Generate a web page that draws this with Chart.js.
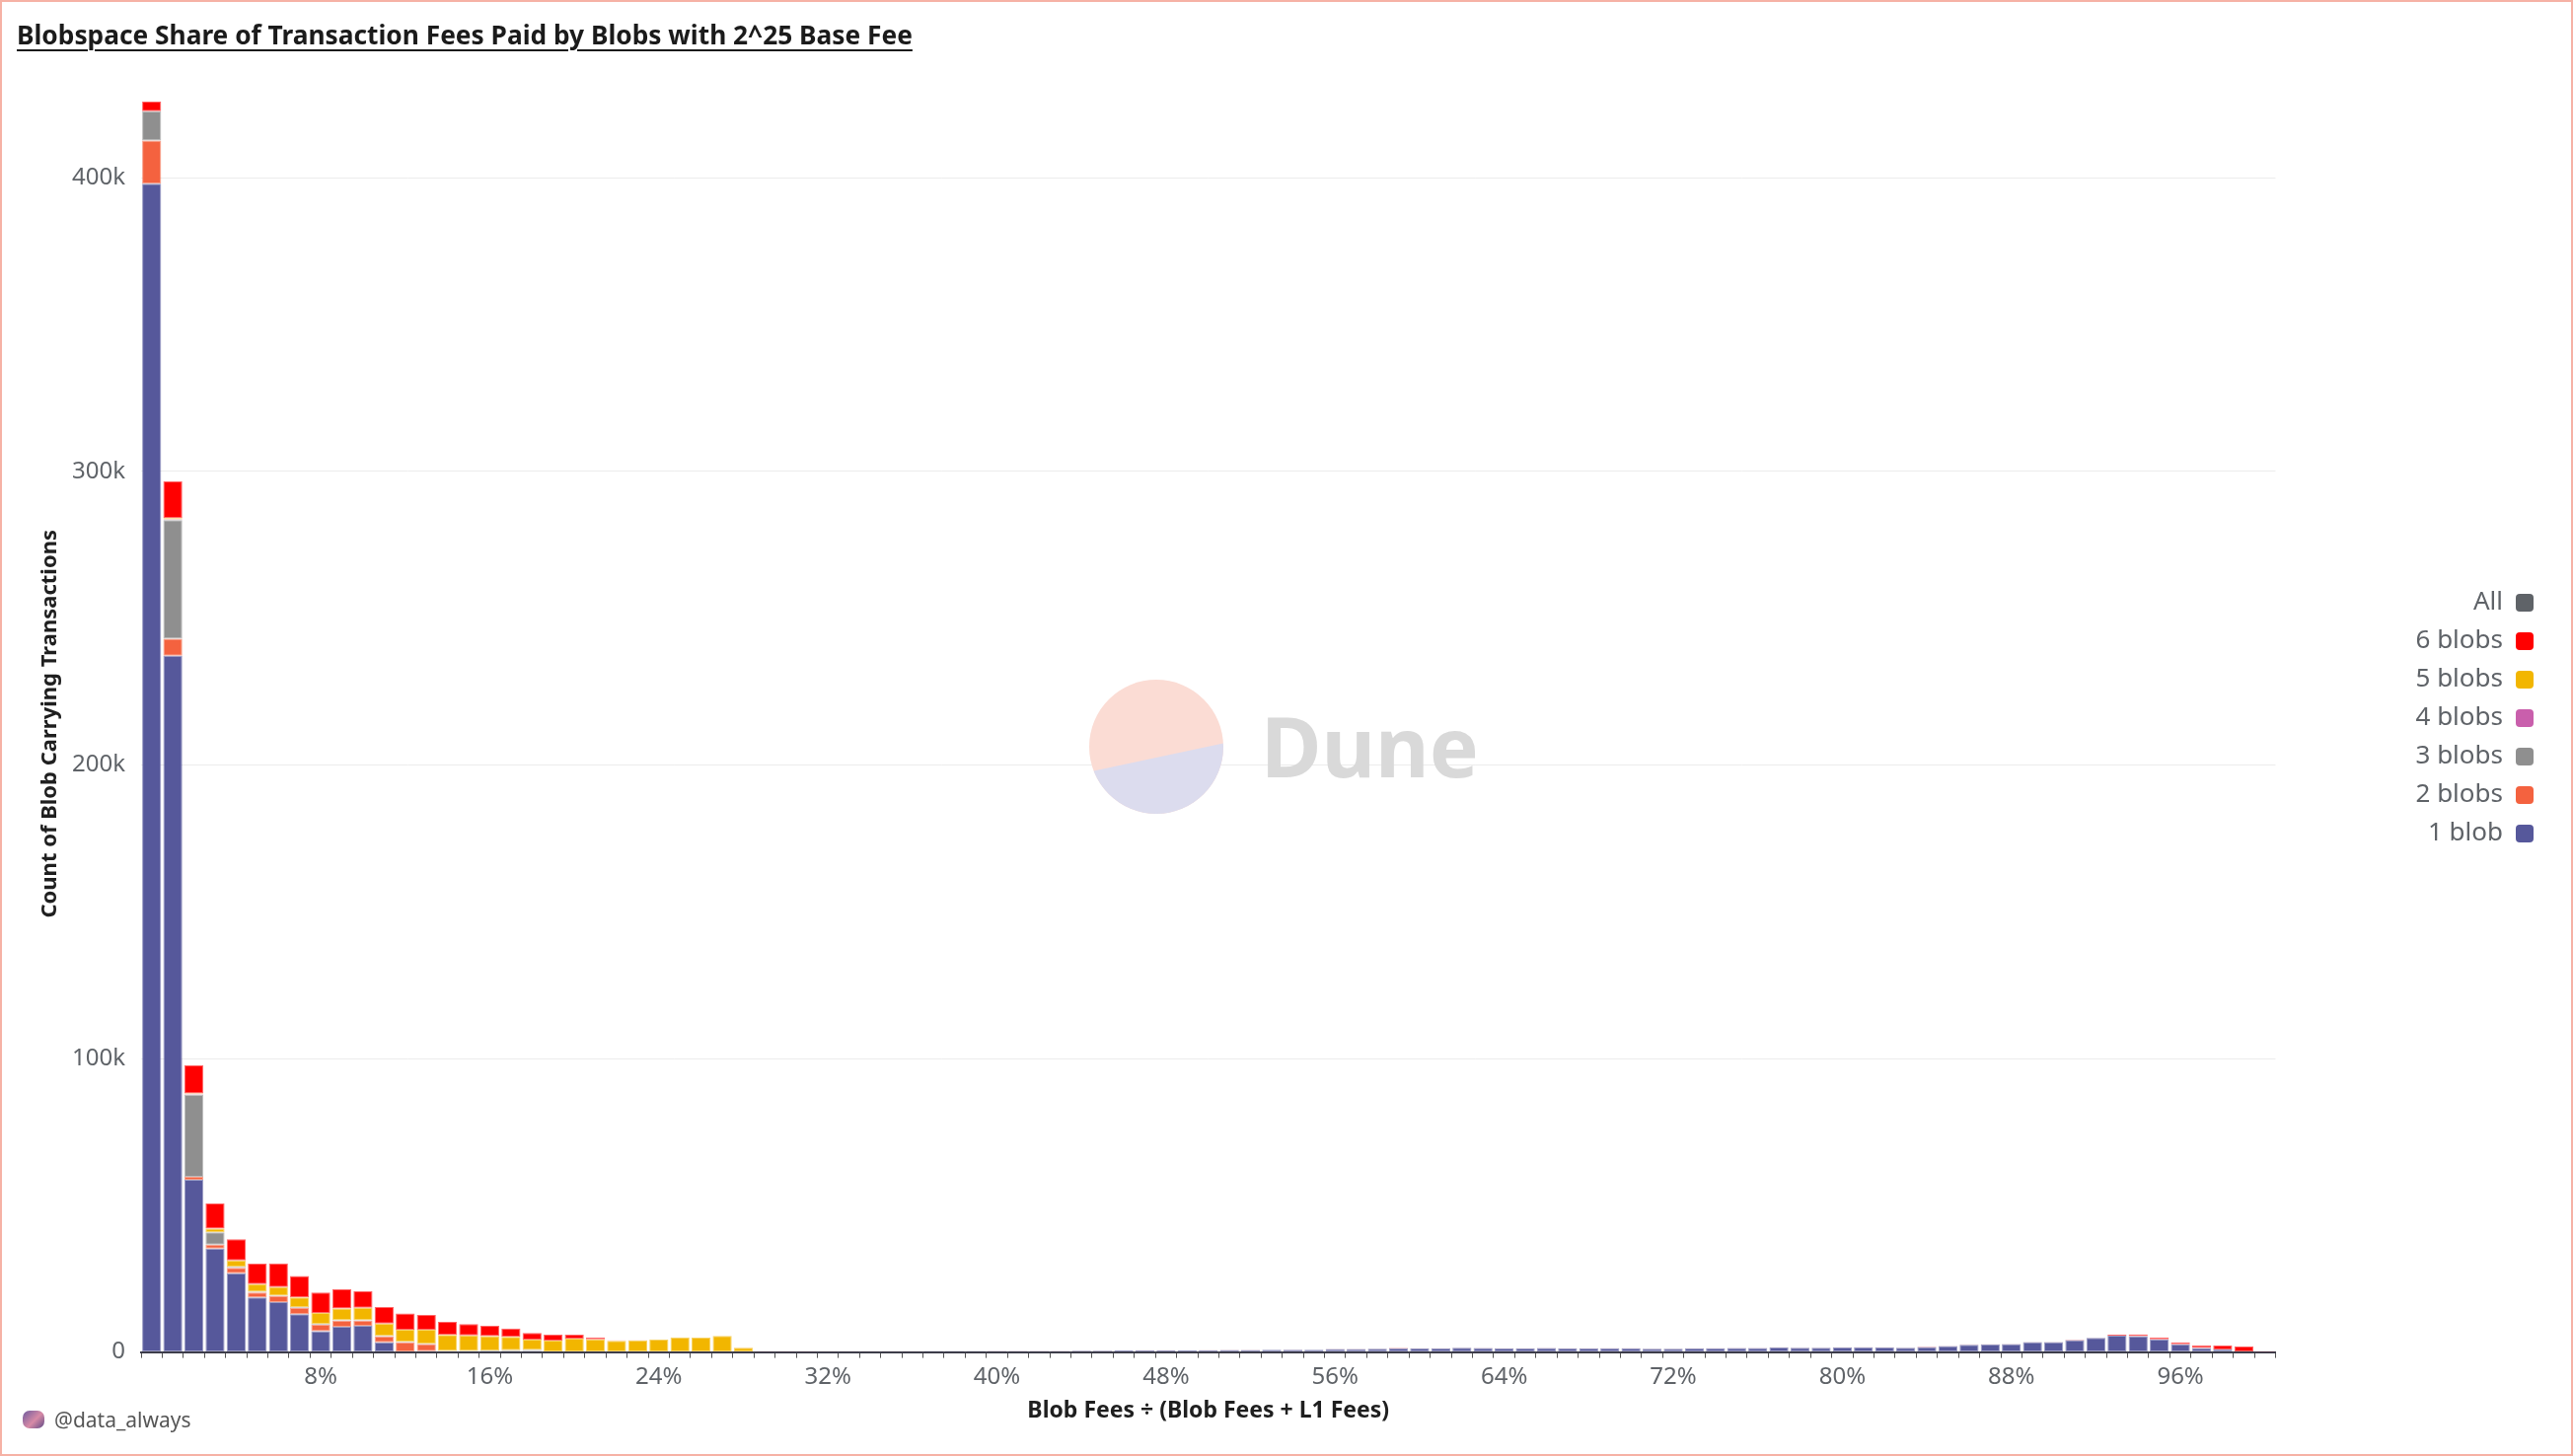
<!DOCTYPE html>
<html>
<head>
<meta charset="utf-8">
<title>Blobspace Share of Transaction Fees Paid by Blobs</title>
<script src="https://cdn.jsdelivr.net/npm/chart.js@4.4.1/dist/chart.umd.min.js"></script>
<style>
  html, body { margin: 0; padding: 0; background: #fff; }
  #page { position: relative; width: 2608px; height: 1476px; overflow: hidden; font-family: 'Noto Sans', 'Open Sans', sans-serif; }
  #chart-box { position: absolute; left: 0; top: 0; width: 2608px; height: 1476px; }
  #frame { position: absolute; left: 0; top: 0; width: 2608px; height: 1476px; box-sizing: border-box; border: 2px solid #f6b2a5; pointer-events: none; }
  #title { position: absolute; left: 17px; top: 17px; font-size: 26.3px; font-weight: 700; color: #1b1b1b; text-decoration: underline; text-decoration-thickness: 2px; text-underline-offset: 5px; white-space: nowrap; }
  #credit { position: absolute; left: 23px; top: 1425px; font-size: 21px; color: #555; display: flex; align-items: center; gap: 10px; }
  #credit .avatar { width: 22px; height: 18px; border-radius: 7px; background: linear-gradient(135deg, #6d5a9e, #d78aa6 55%, #5e4a86); }
</style>
</head>
<body>
<div id="page">
  <div id="chart-box"><canvas id="blob-chart"></canvas></div>
  <div id="title">Blobspace Share of Transaction Fees Paid by Blobs with 2^25 Base Fee</div>
  <div id="credit"><span class="avatar"></span><span>@data_always</span></div>
  <div id="frame"></div>
</div>
<script>
// share buckets, one per percent
const categories = [
  '0%','1%','2%','3%','4%','5%','6%','7%','8%','9%',
  '10%','11%','12%','13%','14%','15%','16%','17%','18%','19%',
  '20%','21%','22%','23%','24%','25%','26%','27%','28%','29%',
  '30%','31%','32%','33%','34%','35%','36%','37%','38%','39%',
  '40%','41%','42%','43%','44%','45%','46%','47%','48%','49%',
  '50%','51%','52%','53%','54%','55%','56%','57%','58%','59%',
  '60%','61%','62%','63%','64%','65%','66%','67%','68%','69%',
  '70%','71%','72%','73%','74%','75%','76%','77%','78%','79%',
  '80%','81%','82%','83%','84%','85%','86%','87%','88%','89%',
  '90%','91%','92%','93%','94%','95%','96%','97%','98%','99%',
  '100%'
];
const tickLabels = ['8%', '16%', '24%', '32%', '40%', '48%', '56%', '64%', '72%', '80%', '88%', '96%'];

// counts in thousands of transactions
const oneBlob = [
  398, 237.2, 58.7, 35.2, 26.8, 18.6, 17.0, 12.9, 7.1, 8.6,
  8.9, 3.3, 0.1, 0.3, 0.2, 0.2, 0.3, 0.3, 0.4, 0.2,
  0.1, 0.1, 0.1, 0.1, 0.1, 0.1, 0.1, 0.1, 0.1, 0.1,
  0.15, 0.15, 0.2, 0.25, 0.3, 0.3, 0.3, 0.35, 0.35, 0.35,
  0.4, 0.4, 0.4, 0.4, 0.45, 0.45, 0.5, 0.55, 0.55, 0.6,
  0.65, 0.7, 0.7, 0.75, 0.8, 0.75, 1.05, 1.05, 1.15, 1.25,
  1.2, 1.2, 1.45, 1.35, 1.2, 1.2, 1.35, 1.2, 1.2, 1.3,
  1.3, 1.1, 1.1, 1.2, 1.3, 1.35, 1.35, 1.55, 1.45, 1.45,
  1.55, 1.65, 1.55, 1.45, 1.75, 2.05, 2.5, 2.6, 2.7, 3.4,
  3.4, 4.1, 4.8, 5.6, 5.4, 4.3, 2.6, 1.4, 0.9, 0.2,
  0.05
];
const twoBlobs = [
  14.7, 5.8, 1.0, 1.4, 1.9, 1.7, 2.0, 2.2, 2.2, 2.1,
  1.8, 2.0, 3.2, 2.4, 0.1, 0, 0, 0, 0, 0,
  0, 0, 0, 0, 0, 0, 0, 0, 0, 0,
  0, 0, 0, 0, 0, 0, 0, 0, 0, 0,
  0, 0, 0, 0, 0, 0, 0, 0, 0, 0,
  0, 0, 0, 0, 0, 0, 0, 0, 0, 0,
  0, 0, 0, 0, 0, 0, 0, 0, 0, 0,
  0, 0, 0, 0, 0, 0, 0, 0, 0, 0,
  0, 0, 0, 0, 0, 0, 0, 0, 0, 0,
  0, 0, 0, 0, 0, 0, 0, 0, 0, 0,
  0
];
const threeBlobs = [
  10.0, 40.4, 28.0, 4.2, 0.3, 0.2, 0.2, 0.2, 0.2, 0.2,
  0.2, 0.2, 0.2, 0.2, 0.1, 0.2, 0.2, 0.3, 0.3, 0,
  0, 0, 0, 0, 0, 0, 0, 0, 0, 0,
  0, 0, 0, 0, 0, 0, 0, 0, 0, 0,
  0, 0, 0, 0, 0, 0, 0, 0, 0, 0,
  0, 0, 0, 0, 0, 0, 0, 0, 0, 0,
  0, 0, 0, 0, 0, 0, 0, 0, 0, 0,
  0, 0, 0, 0, 0, 0, 0, 0, 0, 0,
  0, 0, 0, 0, 0, 0, 0, 0, 0, 0,
  0, 0, 0, 0, 0, 0, 0, 0, 0, 0,
  0
];
const fourBlobs = [
  0, 0.3, 0.1, 0, 0, 0, 0, 0, 0, 0,
  0, 0, 0, 0, 0, 0, 0, 0, 0, 0,
  0, 0, 0, 0, 0, 0, 0, 0, 0, 0,
  0, 0, 0, 0, 0, 0, 0, 0, 0, 0,
  0, 0, 0, 0, 0, 0, 0, 0, 0, 0,
  0, 0, 0, 0, 0, 0, 0, 0, 0, 0,
  0, 0, 0, 0, 0, 0, 0, 0, 0, 0,
  0, 0, 0, 0, 0, 0, 0, 0, 0, 0,
  0, 0, 0, 0, 0, 0, 0, 0, 0, 0,
  0, 0, 0, 0, 0, 0, 0, 0, 0, 0,
  0
];
const fiveBlobs = [
  0, 0.4, 0.3, 1.2, 2.2, 2.6, 2.9, 3.3, 3.8, 3.9,
  4.2, 4.2, 4.1, 4.7, 5.4, 5.3, 4.9, 4.6, 3.5, 3.7,
  4.5, 4.2, 3.7, 3.9, 4.1, 4.9, 4.8, 5.4, 1.4, 0.05,
  0, 0, 0, 0, 0, 0, 0, 0, 0, 0,
  0, 0, 0, 0, 0, 0, 0, 0, 0, 0,
  0, 0, 0, 0, 0, 0, 0, 0, 0, 0,
  0, 0, 0, 0, 0, 0, 0, 0, 0, 0,
  0, 0, 0, 0, 0, 0, 0, 0, 0, 0,
  0, 0, 0, 0, 0, 0, 0, 0, 0, 0,
  0, 0, 0, 0, 0, 0, 0, 0, 0, 0,
  0
];
const sixBlobs = [
  3.3, 12.6, 9.6, 8.6, 7.2, 7.0, 8.1, 7.3, 7.0, 6.6,
  5.6, 5.6, 5.5, 5.0, 4.5, 3.8, 3.5, 2.8, 2.3, 2.0,
  1.3, 0.6, 0.2, 0.05, 0.02, 0.02, 0.02, 0.02, 0.02, 0.15,
  0.15, 0.12, 0.1, 0.08, 0.05, 0.05, 0.05, 0.05, 0.05, 0.05,
  0.05, 0.05, 0.05, 0.05, 0.05, 0.05, 0.05, 0.05, 0.05, 0.05,
  0.05, 0.05, 0.05, 0.05, 0.05, 0.05, 0.1, 0.1, 0.1, 0.1,
  0.1, 0.1, 0.1, 0.1, 0.1, 0.1, 0.1, 0.1, 0.1, 0.1,
  0.1, 0.1, 0.1, 0.1, 0.1, 0.1, 0.1, 0.1, 0.1, 0.1,
  0.1, 0.1, 0.1, 0.1, 0.1, 0.1, 0.1, 0.1, 0.1, 0.1,
  0.1, 0.1, 0.1, 0.3, 0.6, 0.6, 0.6, 0.8, 1.3, 1.7,
  0.2
];

const seriesNames = ['1 blob', '2 blobs', '3 blobs', '4 blobs', '5 blobs', '6 blobs', 'All'];
const seriesColors = ['#56589b', '#f4623f', '#8f8f8f', '#c95fac', '#f2b600', '#ff0000', '#5f6368'];
const seriesData = [oneBlob, twoBlobs, threeBlobs, fourBlobs, fiveBlobs, sixBlobs, []];

const textGray = '#5f6368';
const darkText = '#1f1f1f';

Chart.defaults.font.family = "'Noto Sans', 'Open Sans', sans-serif";
Chart.defaults.color = textGray;

// Dune watermark behind the bars
const watermark = {
    id: 'watermark',
    beforeDatasetsDraw(chart) {
        const ctx = chart.ctx;
        const cx = 1172, cy = 757, r = 68;
        ctx.save();
        ctx.beginPath();
        ctx.arc(cx, cy, r, 0, Math.PI * 2);
        ctx.fillStyle = '#fbdcd4';
        ctx.fill();
        ctx.clip();
        const a = -12 * Math.PI / 180;
        ctx.translate(cx, cy + 11);
        ctx.rotate(a);
        ctx.fillStyle = '#dcdcee';
        ctx.fillRect(-2 * r, 0, 4 * r, 2 * r);
        ctx.restore();

        ctx.save();
        ctx.font = "bold 84px 'Noto Sans', sans-serif";
        ctx.fillStyle = '#d9d9d9';
        ctx.textBaseline = 'alphabetic';
        ctx.fillText('Dune', 1278, 788);
        ctx.restore();
    }
};

const ctx = document.getElementById('blob-chart');

ctx.chartInstance = new Chart(ctx, {
    type: 'bar',
    data: {
        labels: categories,
        datasets: seriesNames.map((name, i) => ({
            label: name,
            data: seriesData[i],
            backgroundColor: seriesColors[i],
            borderColor: seriesColors[i] + '99',
            borderWidth: 1,
            borderSkipped: false,
            categoryPercentage: 1,
            barPercentage: 0.9
        }))
    },
    options: {
        responsive: true,
        maintainAspectRatio: false,
        animation: false,
        layout: {
            padding: { top: 97, left: 0, right: 27, bottom: 32 }
        },
        scales: {
            x: {
                stacked: true,
                grid: {
                    display: true,
                    drawOnChartArea: false,
                    drawTicks: true,
                    tickLength: 6,
                    color: '#555'
                },
                border: { display: true, color: '#3d3d4a', width: 2 },
                ticks: {
                    autoSkip: false,
                    maxRotation: 0,
                    padding: 5,
                    font: { size: 24 },
                    color: textGray,
                    callback: function (value) {
                        const label = this.getLabelForValue(value);
                        return tickLabels.includes(label) ? label : '';
                    }
                },
                title: {
                    display: true,
                    text: 'Blob Fees ÷ (Blob Fees + L1 Fees)',
                    color: darkText,
                    font: { size: 23, weight: 'bold' },
                    padding: { top: 1, bottom: 0 }
                }
            },
            y: {
                stacked: true,
                min: 0,
                max: 428,
                afterFit: function (scale) {
                    scale.width = 143;
                },
                grid: { color: '#ececec', drawTicks: false },
                border: { display: false },
                ticks: {
                    stepSize: 100,
                    includeBounds: false,
                    padding: 16,
                    font: { size: 24 },
                    color: textGray,
                    callback: function (value) {
                        return value === 0 ? '0' : value + 'k';
                    }
                },
                title: {
                    display: true,
                    text: 'Count of Blob Carrying Transactions',
                    color: darkText,
                    font: { size: 22, weight: 'bold' },
                    padding: { top: 38, bottom: 0 }
                }
            },
            gap: {
                type: 'linear',
                position: 'right',
                display: true,
                afterFit: function (scale) {
                    scale.width = 132;
                },
                grid: { display: false },
                border: { display: false },
                ticks: { display: false }
            }
        },
        plugins: {
            legend: {
                position: 'right',
                align: 'start',
                rtl: true,
                reverse: true,
                title: {
                    display: true,
                    text: ' ',
                    font: { size: 10 },
                    padding: { top: 476, bottom: 0 }
                },
                labels: {
                    boxWidth: 18,
                    boxHeight: 18,
                    useBorderRadius: true,
                    borderRadius: 4,
                    padding: 13,
                    color: textGray,
                    font: { size: 26 },
                    generateLabels: function (chart) {
                        const items = Chart.defaults.plugins.legend.labels.generateLabels(chart);
                        items.forEach(item => {
                            item.strokeStyle = item.fillStyle;
                            item.lineWidth = 0;
                        });
                        return items;
                    }
                }
            },
            tooltip: { enabled: false }
        }
    },
    plugins: [watermark]
});
</script>
</body>
</html>
